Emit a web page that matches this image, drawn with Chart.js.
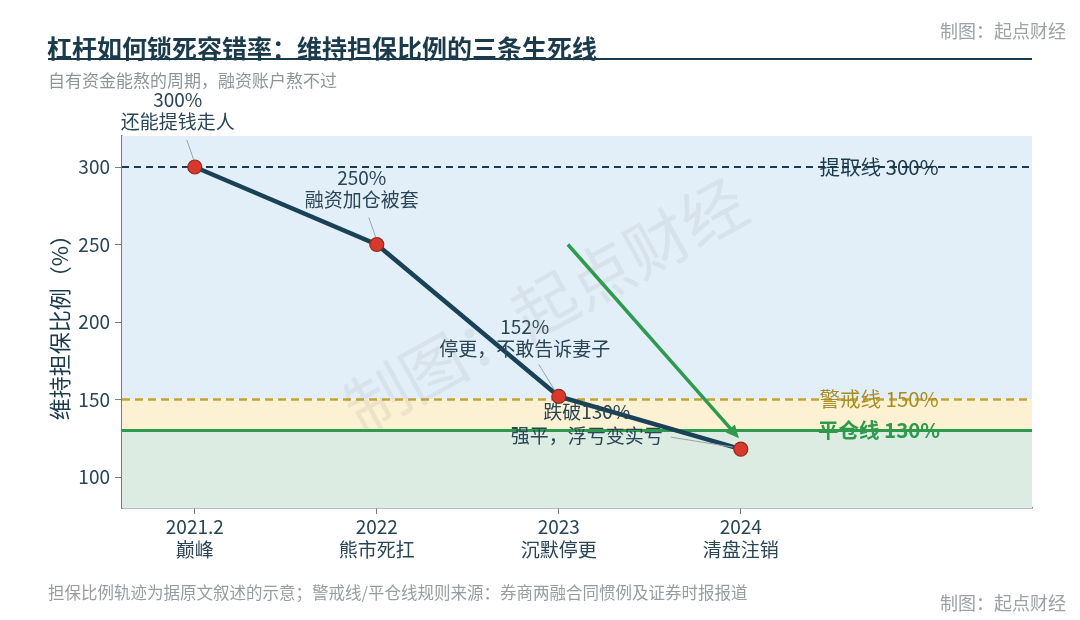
<!DOCTYPE html>
<html>
<head>
<meta charset="utf-8">
<script src="https://cdn.jsdelivr.net/npm/chart.js@4/dist/chart.umd.min.js"></script>
<style>
  html, body { margin:0; padding:0; background:#ffffff; }
  body { width:1080px; height:620px; position:relative; overflow:hidden;
         font-family:"Noto Sans CJK SC","Noto Sans",sans-serif; }
  #c { position:absolute; left:0; top:0; }
  .t { position:absolute; white-space:nowrap; }
  #title { left:47px; top:31px; font-size:25px; font-weight:bold; color:#1b3a4b; line-height:32px; }
  #rule { position:absolute; left:48px; top:58px; width:984px; height:2px; background:#1b3a4b; }
  #sub { left:48px; top:68px; font-size:17px; color:#8d9599; line-height:24px; }
  #credTop { right:14px; top:18px; font-size:18px; color:#9ca2a5; line-height:24px; }
  #credBot { right:14px; top:590px; font-size:18px; color:#9ca2a5; line-height:24px; }
  #note { left:48px; top:580px; font-size:16.5px; color:#969da1; line-height:24px; }
</style>
</head>
<body>
<canvas id="c" width="1080" height="620"></canvas>
<div class="t" id="title">杠杆如何锁死容错率：维持担保比例的三条生死线</div>
<div id="rule"></div>
<div class="t" id="sub">自有资金能熬的周期，融资账户熬不过</div>
<div class="t" id="credTop">制图：起点财经</div>
<div class="t" id="credBot">制图：起点财经</div>
<div class="t" id="note">担保比例轨迹为据原文叙述的示意；警戒线/平仓线规则来源：券商两融合同惯例及证券时报报道</div>
<script>
// ---- data ----
const years = ["2021.2", "2022", "2023", "2024"];
const stages = ["巅峰", "熊市死扛", "沉默停更", "清盘注销"];
const ratios = [300, 250, 152, 118];
const pctLabels = ["300%", "250%", "152%", "跌破130%"];
const notes = ["还能提钱走人", "融资加仓被套", "停更，不敢告诉妻子", "强平，浮亏变实亏"];
const yTicks = [100, 150, 200, 250, 300];
const lineNames = ["提取线 300%", "警戒线 150%", "平仓线 130%"];
const lineValues = [300, 150, 130];
const arrowX = [2.05, 2.99];
const arrowY = [250, 125];

const FONT = '"Noto Sans CJK SC","Noto Sans",sans-serif';
const TXT = '#2a4556';

// annotation text offsets (pixels relative to point)
const annStyle = [
  {dx:-17, y1:-67, y2:-45, l:[-8,-27,-1,-7]},
  {dx:-15, y1:-67, y2:-45, l:[-8,-27,-1,-7]},
  {dx:-34, y1:-70, y2:-48, l:[-20,-32,-4,-6]},
  {dx:-154, y1:-37, y2:-13, l:[-70,-12,-8,-2]}
];

const decor = {
  id:'decor',
  beforeDatasetsDraw(chart){
    const {ctx, chartArea:a, scales:{x,y}} = chart;
    ctx.save();
    ctx.beginPath(); ctx.rect(a.left, a.top, a.right-a.left, a.bottom-a.top); ctx.clip();
    const yTop = a.top, y150 = y.getPixelForValue(lineValues[1]), y130 = y.getPixelForValue(lineValues[2]);
    ctx.fillStyle = '#e3eff8'; ctx.fillRect(a.left, yTop, a.right-a.left, y150-yTop);
    ctx.fillStyle = '#fcf1d3'; ctx.fillRect(a.left, y150, a.right-a.left, y130-y150);
    ctx.fillStyle = '#dcece2'; ctx.fillRect(a.left, y130, a.right-a.left, a.bottom-y130);
    // reference lines
    const styles = [
      {c:'#1b3a4b', w:2, d:[7,5]},
      {c:'#c9a22e', w:2.5, d:[8,5]},
      {c:'#2e9a4e', w:3, d:[]}
    ];
    lineValues.forEach((v,i)=>{
      const py = y.getPixelForValue(v);
      ctx.strokeStyle = styles[i].c; ctx.lineWidth = styles[i].w; ctx.setLineDash(styles[i].d);
      ctx.beginPath(); ctx.moveTo(a.left, py); ctx.lineTo(a.right, py); ctx.stroke();
    });
    ctx.setLineDash([]);
    // labels on lines
    const lc = ['#1b3a4b', '#a88d22', '#2e9a4e'];
    lineValues.forEach((v,i)=>{
      const py = y.getPixelForValue(v);
      ctx.font = (i===2 ? 'bold ' : '') + '20.5px ' + FONT;
      ctx.fillStyle = lc[i]; ctx.textAlign = 'center'; ctx.textBaseline = 'middle';
      ctx.fillText(lineNames[i], 879, py);
    });
    // green arrow
    const x0 = x.getPixelForValue(arrowX[0]), y0 = y.getPixelForValue(arrowY[0]);
    const x1 = x.getPixelForValue(arrowX[1]), y1 = y.getPixelForValue(arrowY[1]);
    const ang = Math.atan2(y1-y0, x1-x0);
    const hl = 13, hw = 6;
    ctx.strokeStyle = '#2e9a4e'; ctx.lineWidth = 3.5;
    ctx.beginPath(); ctx.moveTo(x0,y0);
    ctx.lineTo(x1 - hl*Math.cos(ang)*0.8, y1 - hl*Math.sin(ang)*0.8); ctx.stroke();
    ctx.fillStyle = '#2e9a4e';
    ctx.beginPath();
    ctx.moveTo(x1, y1);
    ctx.lineTo(x1 - hl*Math.cos(ang) + hw*Math.sin(ang), y1 - hl*Math.sin(ang) - hw*Math.cos(ang));
    ctx.lineTo(x1 - hl*Math.cos(ang) - hw*Math.sin(ang), y1 - hl*Math.sin(ang) + hw*Math.cos(ang));
    ctx.closePath(); ctx.fill();
    ctx.restore();
  },
  afterDatasetsDraw(chart){
    const {ctx, scales:{x,y}} = chart;
    ctx.save();
    ratios.forEach((v,i)=>{
      const px = x.getPixelForValue(i), py = y.getPixelForValue(v);
      const s = annStyle[i];
      ctx.strokeStyle = '#9aa3a8'; ctx.lineWidth = 1;
      ctx.beginPath(); ctx.moveTo(px+s.l[0], py+s.l[1]); ctx.lineTo(px+s.l[2], py+s.l[3]); ctx.stroke();
      ctx.font = '19px ' + FONT; ctx.fillStyle = TXT; ctx.textAlign = 'center'; ctx.textBaseline = 'middle';
      ctx.fillText(pctLabels[i], px+s.dx, py+s.y1);
      ctx.fillText(notes[i], px+s.dx, py+s.y2);
    });
    // watermark
    ctx.translate(545, 305);
    ctx.rotate(-29*Math.PI/180);
    ctx.font = '64px ' + FONT; ctx.fillStyle = 'rgba(140,140,140,0.13)';
    ctx.textAlign = 'center'; ctx.textBaseline = 'middle';
    ctx.fillText('制图：起点财经', 0, 0);
    ctx.restore();
  }
};

new Chart(document.getElementById('c'), {
  type:'line',
  data:{
    datasets:[{
      data: ratios.map((v,i)=>({x:i, y:v})),
      borderColor:'#1a4256', borderWidth:4.5, tension:0,
      pointRadius:7, pointHoverRadius:7,
      pointBackgroundColor:'#d8392b', pointBorderColor:'#8f2a20', pointBorderWidth:1.2
    }]
  },
  options:{
    responsive:false, animation:false, devicePixelRatio:1,
    layout:{padding:{left:0, top:136, right:48, bottom:42}},
    plugins:{legend:{display:false}, tooltip:{enabled:false}},
    scales:{
      x:{
        type:'linear', min:-0.4, max:4.6,
        afterBuildTicks(s){ s.ticks = years.map((_,i)=>({value:i})); },
        afterFit(s){ s.height = 70; },
        grid:{drawOnChartArea:false, tickLength:6, color:'#6f8084', tickWidth:1},
        border:{color:'#6f8084', width:1.5},
        ticks:{
          color:TXT, font:{family:FONT, size:19, lineHeight:1.22}, padding:1,
          maxRotation:0, autoSkip:false,
          callback:(v)=>[years[v], stages[v]]
        }
      },
      y:{
        min:80, max:320,
        afterBuildTicks(s){ s.ticks = yTicks.map(v=>({value:v})); },
        afterFit(s){ s.width = 122; },
        grid:{drawOnChartArea:false, tickLength:7, color:'#6f8084'},
        border:{color:'#6f8084', width:1.5},
        ticks:{color:TXT, font:{family:FONT, size:19}, padding:5},
        title:{display:true, text:'维持担保比例（%）', color:'#1b3a4b',
               font:{family:FONT, size:22}, padding:{top:46, bottom:0}}
      }
    }
  },
  plugins:[decor]
});
</script>
</body>
</html>
